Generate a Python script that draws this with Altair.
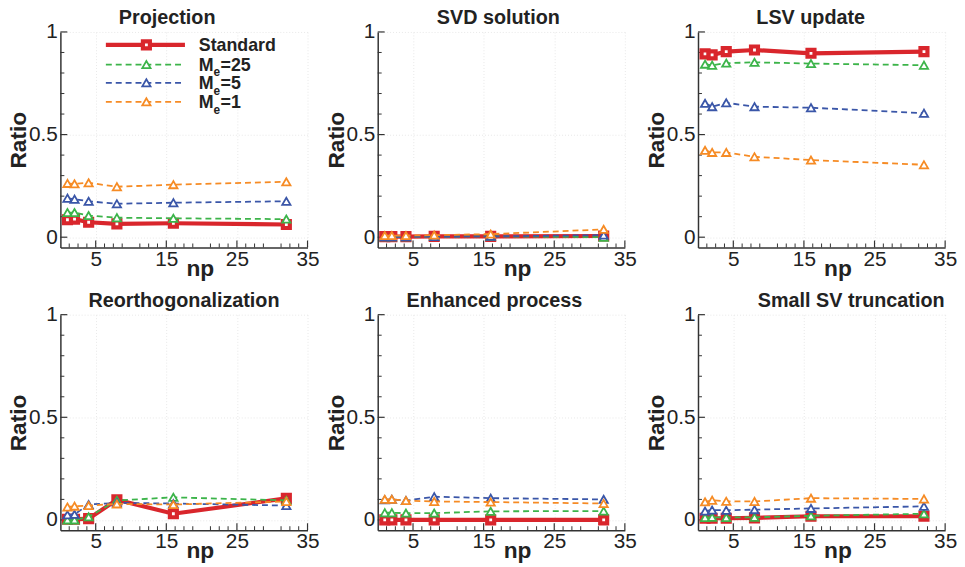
import altair as alt
import pandas as pd
import numpy as np

NP = [1, 2, 4, 8, 16, 32]
SERIES = ["Standard", "Me=25", "Me=5", "Me=1"]
COLORS = ["#D9262C", "#3CB44A", "#3A56A8", "#F68B24"]
PANELS = ["Projection", "SVD solution", "LSV update",
          "Reorthogonalization", "Enhanced process", "Small SV truncation"]

# values: [Standard, Me=25, Me=5, Me=1]
projection = [
    [0.085, 0.088, 0.073, 0.065, 0.068, 0.062],
    [0.120, 0.120, 0.105, 0.095, 0.092, 0.088],
    [0.190, 0.185, 0.175, 0.163, 0.168, 0.175],
    [0.262, 0.260, 0.265, 0.246, 0.256, 0.270],
]
svd_solution = [
    [0.003, 0.003, 0.003, 0.004, 0.004, 0.006],
    [0.002, 0.002, 0.002, 0.003, 0.004, 0.000],
    [0.002, 0.002, 0.002, 0.003, 0.004, 0.010],
    [0.008, 0.008, 0.008, 0.010, 0.015, 0.038],
]
lsv_update = [
    [0.893, 0.888, 0.904, 0.912, 0.896, 0.904],
    [0.843, 0.838, 0.848, 0.852, 0.846, 0.838],
    [0.652, 0.636, 0.655, 0.636, 0.631, 0.604],
    [0.423, 0.413, 0.413, 0.392, 0.376, 0.353],
]
reorthogonalization = [
    [0.003, 0.003, 0.006, 0.098, 0.030, 0.105],
    [0.000, 0.000, 0.015, 0.095, 0.110, 0.095],
    [0.025, 0.027, 0.075, 0.083, 0.080, 0.070],
    [0.063, 0.067, 0.070, 0.078, 0.075, 0.090],
]
enhanced_process = [
    [0.000, 0.000, 0.000, 0.000, 0.000, 0.000],
    [0.035, 0.035, 0.033, 0.033, 0.042, 0.043],
    [0.098, 0.100, 0.094, 0.113, 0.106, 0.100],
    [0.100, 0.100, 0.094, 0.090, 0.087, 0.080],
]
small_sv_truncation = [
    [0.008, 0.008, 0.008, 0.010, 0.018, 0.018],
    [0.012, 0.013, 0.012, 0.013, 0.020, 0.030],
    [0.043, 0.048, 0.047, 0.050, 0.056, 0.066],
    [0.088, 0.096, 0.091, 0.090, 0.106, 0.102],
]
PANEL_DATA = [projection, svd_solution, lsv_update,
              reorthogonalization, enhanced_process, small_sv_truncation]
TITLE_DX = [-17, -3, -11, 0, -7, 30]

X_LABELS = [5, 15, 25, 35]
Y_LABELS = [0, 0.5, 1]

W, H = 250, 218
FONT = "Liberation Sans"
AX = "#333333"
TXT = "#222222"

xs = alt.Scale(domain=[0, 35], nice=False, zero=False)
ys = alt.Scale(domain=[-0.05, 1], nice=False, zero=False)

x_axis = alt.Axis(values=X_LABELS, ticks=False, tickSize=0, labelFont=FONT, labelFontSize=21,
                  labelColor=TXT, labelPadding=1, labelFlush=False,
                  domainColor=AX, domainWidth=1.5,
                  grid=True, gridColor="#e8e8e8", gridDash=[1, 2],
                  title="np", titleFont=FONT, titleFontSize=23, titleFontWeight="bold",
                  titleColor=TXT, titleX=141, titleY=28, titleBaseline="alphabetic")
y_axis = alt.Axis(values=Y_LABELS, format="~g", ticks=False, tickSize=0, labelFont=FONT,
                  labelFontSize=21, labelColor=TXT, labelPadding=3, labelFlush=False,
                  domainColor=AX, domainWidth=1.5,
                  grid=True, gridColor="#e8e8e8", gridDash=[1, 2],
                  title="Ratio", titleFont=FONT, titleFontSize=23, titleFontWeight="bold",
                  titleColor=TXT, titleX=-35, titleY=H / 2, titleAngle=270,
                  titleAlign="center", titleBaseline="alphabetic")

x_major = pd.DataFrame({"t": X_LABELS})
x_minor = pd.DataFrame({"t": [v for v in np.arange(1.25, 35, 1.25) if v % 5 != 0]})
y_major = pd.DataFrame({"t": Y_LABELS})
y_minor = pd.DataFrame({"t": [round(v, 1) for v in np.arange(0.1, 1.0, 0.1) if abs(v - 0.5) > 1e-6]})

LEG_ROWS = [13, 33, 51.4, 70.7]
LEG_PARTS = [("Standard", "", ""), ("M", "e", "=25"), ("M", "e", "=5"), ("M", "e", "=1")]


def style(i):
    if i == 0:
        return dict(line=dict(strokeWidth=4.2),
                    pt=dict(shape="square", size=50, strokeWidth=4.2))
    return dict(line=dict(strokeWidth=1.8, strokeDash=[6, 4]),
                pt=dict(shape="triangle-up", size=70, strokeWidth=1.8))


def X(f):
    return alt.X(f, scale=xs, axis=x_axis)


def Y(f):
    return alt.Y(f, scale=ys, axis=y_axis)


def panel(k):
    layers = []
    one = pd.DataFrame({"a": [0]})
    # ticks inward
    layers.append(alt.Chart(x_major).mark_rule(color=AX, strokeWidth=1.2).encode(
        x=X("t:Q"), y=alt.value(H), y2=alt.value(H - 7)))
    layers.append(alt.Chart(x_minor).mark_rule(color=AX, strokeWidth=1).encode(
        x=X("t:Q"), y=alt.value(H), y2=alt.value(H - 4)))
    layers.append(alt.Chart(y_major).mark_rule(color=AX, strokeWidth=1.2).encode(
        y=Y("t:Q"), x=alt.value(0), x2=alt.value(7)))
    layers.append(alt.Chart(y_minor).mark_rule(color=AX, strokeWidth=1).encode(
        y=Y("t:Q"), x=alt.value(0), x2=alt.value(4)))
    for i, s in enumerate(SERIES):
        df = pd.DataFrame({"np": NP, "ratio": PANEL_DATA[k][i]})
        st = style(i)
        enc = dict(x=X("np:Q"), y=Y("ratio:Q"))
        layers.append(alt.Chart(df).mark_line(color=COLORS[i], **st["line"]).encode(**enc))
        layers.append(alt.Chart(df).mark_point(filled=True, fill="white", stroke=COLORS[i],
                                               opacity=1, **st["pt"]).encode(**enc))
    if k == 0:
        for i, s in enumerate(SERIES):
            st = style(i)
            yv = LEG_ROWS[i]
            layers.append(alt.Chart(one).mark_rule(color=COLORS[i], **st["line"]).encode(
                x=alt.value(46), x2=alt.value(126), y=alt.value(yv)))
            layers.append(alt.Chart(one).mark_point(filled=True, fill="white", stroke=COLORS[i],
                                                    opacity=1, **st["pt"]).encode(
                x=alt.value(87), y=alt.value(yv)))
            a, b, c = LEG_PARTS[i]
            layers.append(alt.Chart(one).mark_text(text=a, align="left", baseline="alphabetic",
                                                   font=FONT, fontSize=18, fontWeight="bold",
                                                   color=TXT).encode(
                x=alt.value(140), y=alt.value(yv + 6.5)))
            if b:
                layers.append(alt.Chart(one).mark_text(text=b, align="left", baseline="alphabetic",
                                                       font=FONT, fontSize=12, fontWeight="bold",
                                                       color=TXT).encode(
                    x=alt.value(155), y=alt.value(yv + 12)))
                layers.append(alt.Chart(one).mark_text(text=c, align="left", baseline="alphabetic",
                                                       font=FONT, fontSize=18, fontWeight="bold",
                                                       color=TXT).encode(
                    x=alt.value(162), y=alt.value(yv + 6.5)))
    return alt.layer(*layers).properties(
        width=W, height=H,
        title=alt.TitleParams(PANELS[k], font=FONT, fontSize=20, fontWeight="bold",
                              color=TXT, anchor="middle", dx=TITLE_DX[k], offset=-7,
                              frame="group"))


row1 = alt.hconcat(alt.hconcat(panel(0), panel(1), spacing=6), panel(2), spacing=9)
row2 = alt.hconcat(alt.hconcat(panel(3), panel(4), spacing=6), panel(5), spacing=9)
chart = alt.vconcat(row1, row2, spacing=11).configure_view(
    stroke=None).properties(padding={"left": 0, "top": -3, "right": 0, "bottom": 0},
                            background="white")

chart.save("out.html", embed_options={"renderer": "svg", "actions": False})
